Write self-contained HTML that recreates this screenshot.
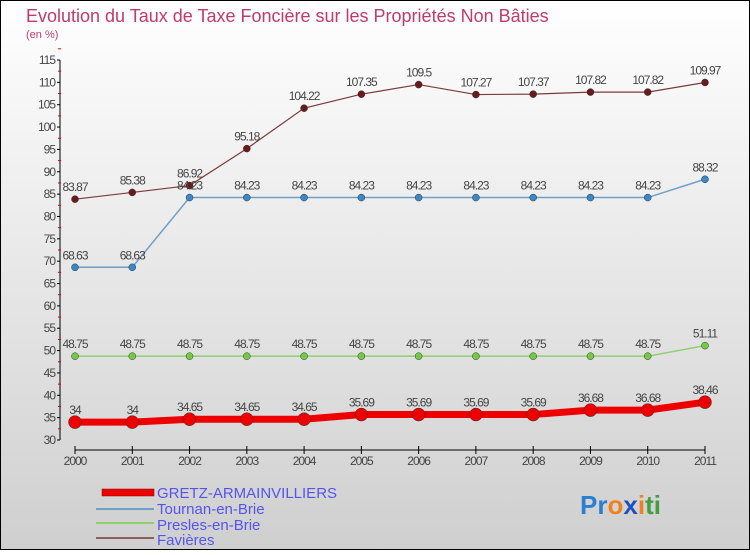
<!DOCTYPE html>
<html><head><meta charset="utf-8"><style>
body{margin:0}
svg text{font-family:"Liberation Sans",sans-serif}
</style></head><body>
<svg width="750" height="550" xmlns="http://www.w3.org/2000/svg">
<defs><linearGradient id="bg" x1="0" y1="0" x2="0" y2="1"><stop offset="0" stop-color="#ffffff"/><stop offset="1" stop-color="#cfcfcf"/></linearGradient></defs>
<rect x="0.5" y="0.5" width="749" height="549" fill="url(#bg)" stroke="#000"/>
<text x="26" y="22" font-size="18" fill="#c03a6a">Evolution du Taux de Taxe Foncière sur les Propriétés Non Bâties</text>
<text x="26" y="38" font-size="11" fill="#c03a6a">(en %)</text>
<g id="axes"></g><g id="series"></g>
<g>
<rect x="102" y="489" width="52" height="7" fill="#e00" stroke="#800" stroke-width="0.5"/>
<text x="157" y="498" font-size="15" fill="#5555ee">GRETZ-ARMAINVILLIERS</text>
<line x1="96" y1="509" x2="154" y2="509" stroke="#6fa0c8" stroke-width="2"/>
<text x="157" y="514" font-size="15" fill="#5555ee">Tournan-en-Brie</text>
<line x1="96" y1="523" x2="154" y2="523" stroke="#90d070" stroke-width="2"/>
<text x="157" y="530" font-size="15" fill="#5555ee">Presles-en-Brie</text>
<line x1="96" y1="538" x2="154" y2="538" stroke="#906060" stroke-width="2"/>
<text x="157" y="545" font-size="15" fill="#5555ee">Favières</text>
</g>
<text x="580" y="514" font-size="26" font-weight="bold"><tspan fill="#2a7fd0">Pr</tspan><tspan fill="#f08020">o</tspan><tspan fill="#2050c0">x</tspan><tspan fill="#f08020">i</tspan><tspan fill="#40a040">ti</tspan></text>
</svg>
<script>
const years=["2000","2001","2002","2003","2004","2005","2006","2007","2008","2009","2010","2011"];
const gretz=[34,34,34.65,34.65,34.65,35.69,35.69,35.69,35.69,36.68,36.68,38.46];
const tournan=[68.63,68.63,84.23,84.23,84.23,84.23,84.23,84.23,84.23,84.23,84.23,88.32];
const presles=[48.75,48.75,48.75,48.75,48.75,48.75,48.75,48.75,48.75,48.75,48.75,51.11];
const favieres=[83.87,85.38,86.92,95.18,104.22,107.35,109.5,107.27,107.37,107.82,107.82,109.97];
const yTicks=[30,35,40,45,50,55,60,65,70,75,80,85,90,95,100,105,110,115];
const NS="http://www.w3.org/2000/svg";
function X(i){return 75+i*(630/11);}
function Y(v){return 440-(v-30)*(380/85);}
function mk(t,a,p){const e=document.createElementNS(NS,t);for(const k in a)e.setAttribute(k,a[k]);p.appendChild(e);return e;}
const ax=document.getElementById('axes');
let l=mk('line',{x1:60,y1:Y(30),x2:60,y2:Y(115),stroke:'#000'},ax);


yTicks.forEach(v=>{
 mk('line',{x1:57,y1:Y(v),x2:60,y2:Y(v),stroke:'#000'},ax);
 mk('line',{x1:58,y1:Y(v+2.5),x2:61,y2:Y(v+2.5),stroke:'#e00'},ax);
 const t=mk('text',{x:55,y:Y(v)+4,'font-size':12,'text-anchor':'end',fill:'#444','letter-spacing':'-1'},ax);
 t.textContent=v;
 
 
});
l=mk('line',{x1:X(0),y1:450,x2:X(11),y2:450,stroke:'#000'},ax);


years.forEach((y,i)=>{
 mk('line',{x1:X(i),y1:446,x2:X(i),y2:454,stroke:'#000'},ax);
 const t=mk('text',{x:X(i),y:465,'font-size':12,'text-anchor':'middle',fill:'#444','letter-spacing':'-1'},ax);
 t.textContent=y;
 
 
});
const sg=document.getElementById('series');
function draw(name,vals,color,dot,w,r){
 const g=mk('g',{},sg);
 
 
 const p=mk('polyline',{points:vals.map((v,i)=>X(i)+','+Y(v)).join(' '),fill:'none',stroke:color,'stroke-width':w},g);
 
 
 vals.forEach((v,i)=>{
  const c=mk('circle',{cx:X(i),cy:Y(v),r:r,fill:dot,stroke:'#333','stroke-width':0.5},g);
  
  
  const t=mk('text',{x:X(i),y:Y(v)-8,'font-size':12,'text-anchor':'middle',fill:'#444','letter-spacing':'-1'},g);
  t.textContent=v;
  
  
 });
}
draw('favieres',favieres,'#7a3b3b','#6a1a1a',1.2,3.5);
draw('tournan',tournan,'#6fa0c8','#3a88c8',1.5,3.5);
draw('presles',presles,'#90d070','#70cc40',1.5,3.5);
draw('gretz',gretz,'#ee0000','#ee0000',7,6.5);
</script>
</body></html>
